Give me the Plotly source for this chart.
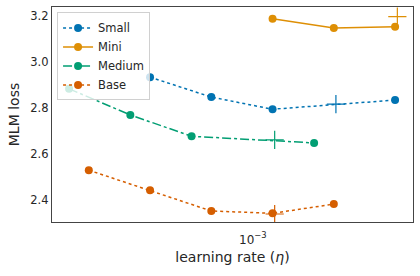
import plotly.graph_objects as go

# data
small_lr = [3.125e-4, 6.25e-4, 1.25e-3, 5e-3]
small_loss = [2.934, 2.847, 2.794, 2.834]
mini_lr = [1.25e-3, 2.5e-3, 5e-3]
mini_loss = [3.189, 3.148, 3.154]
medium_lr = [1.25e-4, 2.5e-4, 5e-4, 2e-3]
medium_loss = [2.883, 2.769, 2.676, 2.647]
base_lr = [1.5625e-4, 3.125e-4, 6.25e-4, 1.25e-3, 2.5e-3]
base_loss = [2.528, 2.440, 2.350, 2.340, 2.380]

# interpolated optima (plus markers)
opt_lr = {"Small": 2.56e-3, "Mini": 5.13e-3, "Medium": 1.28e-3, "Base": 1.28e-3}
opt_loss = {"Small": 2.816, "Mini": 3.198, "Medium": 2.660, "Base": 2.337}

x_ticks = [1e-3]
x_tick_text = ["10<sup>−3</sup>"]
y_ticks = [2.4, 2.6, 2.8, 3.0, 3.2]

colors = {"Small": "#0173b2", "Mini": "#de8f05", "Medium": "#029e73", "Base": "#d55e00"}
dashes = {"Small": "dot", "Mini": "solid", "Medium": "dashdot", "Base": "dot"}
series = [("Small", small_lr, small_loss), ("Mini", mini_lr, mini_loss),
          ("Medium", medium_lr, medium_loss), ("Base", base_lr, base_loss)]

fig = go.Figure()
for name, xs, ys in series:
    fig.add_trace(go.Scatter(
        x=xs, y=ys, mode="lines+markers", name=name,
        line=dict(color=colors[name], width=1.5, dash=dashes[name]),
        marker=dict(color=colors[name], size=8, symbol="circle"),
    ))
for name, xs, ys in series:
    fig.add_trace(go.Scatter(
        x=[opt_lr[name]], y=[opt_loss[name]], mode="markers", showlegend=False,
        marker=dict(symbol="cross-thin", size=13, line=dict(color=colors[name], width=1.2)),
    ))

fig.update_layout(
    width=420, height=276,
    margin=dict(l=52, r=7, t=7, b=54),
    paper_bgcolor="white", plot_bgcolor="white",
    font=dict(family="DejaVu Sans", color="#262626", size=11.5),
    legend=dict(x=0.014, y=0.975, xanchor="left", yanchor="top",
                bgcolor="rgba(255,255,255,0.8)", bordercolor="#d0d0d0", borderwidth=1,
                font=dict(size=11.5), tracegroupgap=0),
    xaxis=dict(type="log", range=[-3.987, -2.213], tickvals=x_ticks, ticktext=x_tick_text,
               showgrid=False, zeroline=False, showline=True, linecolor="#444", linewidth=1.2,
               mirror=True, ticks="", tickfont=dict(size=12), automargin=False,
               ticklabelstandoff=6,
               title=dict(text="learning rate (<i>η</i>)", font=dict(size=14), standoff=6)),
    yaxis=dict(range=[2.302, 3.240], tickvals=y_ticks, ticktext=[f"{v:.1f}" for v in y_ticks],
               showgrid=False, zeroline=False, showline=True, linecolor="#444", linewidth=1.2,
               mirror=True, ticks="", tickfont=dict(size=11.5), automargin=False,
               title=dict(text="MLM loss", font=dict(size=14), standoff=7)),
)

fig.write_html("out.html", config={"displayModeBar": False},
               post_script="document.body.style.margin='0';")
